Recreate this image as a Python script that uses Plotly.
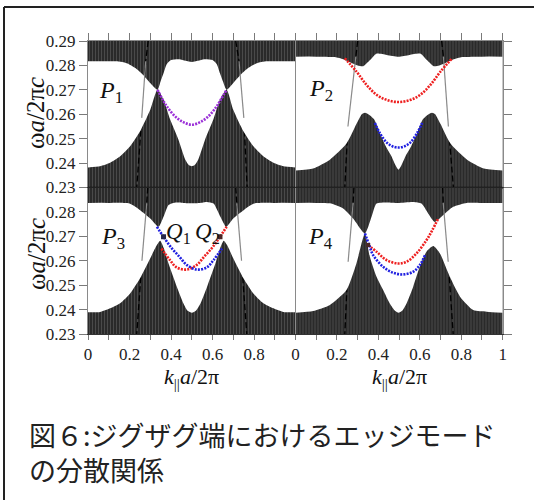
import plotly.graph_objects as go

# ---------------- data ----------------
k_ticks = [0, 0.1, 0.2, 0.3, 0.4, 0.5, 0.6, 0.7, 0.8, 0.9, 1.0]
k_text_left = ["0", "", "0.2", "", "0.4", "", "0.6", "", "0.8", "", ""]
k_text_right = ["0", "", "0.2", "", "0.4", "", "0.6", "", "0.8", "", "1"]
w_ticks = [0.23, 0.24, 0.25, 0.26, 0.27, 0.28, 0.29]
w_text_top = ["0.23", "0.24", "0.25", "0.26", "0.27", "0.28", "0.29"]
w_text_bottom = ["0.23", "0.24", "0.25", "0.26", "0.27", "0.28", ""]
panel_labels = ["P", "P", "P", "P"]
panel_subs = ["1", "2", "3", "4"]

# P1 (top-left)
p1_upper_k = [0, 0.08, 0.15, 0.19, 0.23, 0.27, 0.30, 0.335, 0.35, 0.364, 0.38, 0.40, 0.44, 0.47,
              0.50, 0.53, 0.56, 0.60, 0.62, 0.636, 0.65, 0.668, 0.70, 0.73, 0.77, 0.81, 0.85, 0.92, 1.0]
p1_upper_w = [0.2817, 0.2817, 0.2816, 0.2808, 0.2788, 0.2757, 0.2728, 0.2700, 0.2735, 0.2768, 0.2806, 0.2822,
              0.2825, 0.2819, 0.2814, 0.2819, 0.2825, 0.2822, 0.2806, 0.2768, 0.2735, 0.2700, 0.2728, 0.2757,
              0.2788, 0.2808, 0.2816, 0.2817, 0.2817]
p1_lower_k = [0, 0.058, 0.106, 0.155, 0.203, 0.251, 0.30, 0.335, 0.364, 0.396, 0.436, 0.469, 0.486,
              0.50, 0.514, 0.531, 0.564, 0.604, 0.636, 0.668, 0.70, 0.749, 0.797, 0.845, 0.894, 0.942, 1.0]
p1_lower_w = [0.2382, 0.2387, 0.2401, 0.2428, 0.2469, 0.2530, 0.2618, 0.2700, 0.2659, 0.2578, 0.2496,
              0.2414, 0.2392, 0.2387, 0.2392, 0.2414, 0.2496, 0.2578, 0.2659, 0.2700, 0.2618, 0.2530,
              0.2469, 0.2428, 0.2401, 0.2387, 0.2382]
p1_mode_k = [0.335, 0.36, 0.38, 0.412, 0.452, 0.50, 0.548, 0.588, 0.62, 0.64, 0.668]
p1_mode_w = [0.2700, 0.2660, 0.2632, 0.2598, 0.2571, 0.2557, 0.2571, 0.2598, 0.2632, 0.2660, 0.2700]
p1_light_left_k = [0.29, 0.278, 0.259, 0.235]
p1_light_right_k = [0.712, 0.728, 0.751, 0.767]
p1_light_w = [0.29, 0.2817, 0.2585, 0.23]

# P2 (top-right)
p2_upper_k = [0, 0.10, 0.19, 0.23, 0.27, 0.30, 0.327, 0.36, 0.39, 0.44, 0.497, 0.55, 0.604, 0.634,
              0.667, 0.694, 0.724, 0.764, 0.804, 0.90, 1.0]
p2_upper_w = [0.2836, 0.2836, 0.2834, 0.2825, 0.2810, 0.2800, 0.2797, 0.2822, 0.2848, 0.2843, 0.2836,
              0.2843, 0.2848, 0.2822, 0.2797, 0.2800, 0.2810, 0.2825, 0.2834, 0.2836, 0.2836]
p2_lower_k = [0, 0.085, 0.166, 0.246, 0.294, 0.320, 0.335, 0.36, 0.38, 0.407, 0.435, 0.463, 0.482,
              0.497, 0.512, 0.531, 0.559, 0.587, 0.614, 0.634, 0.659, 0.674, 0.700, 0.748, 0.828,
              0.909, 1.0]
p2_lower_w = [0.2370, 0.2378, 0.2414, 0.2480, 0.2560, 0.2600, 0.2606, 0.2595, 0.2578, 0.2523, 0.2470,
              0.2428, 0.2392, 0.2373, 0.2392, 0.2428, 0.2470, 0.2523, 0.2578, 0.2595, 0.2606, 0.2600,
              0.2560, 0.2480, 0.2414, 0.2378, 0.2370]
p2_red_k = [0.238, 0.294, 0.343, 0.391, 0.439, 0.497, 0.555, 0.603, 0.651, 0.700, 0.756]
p2_red_w = [0.2829, 0.2775, 0.2720, 0.2680, 0.2659, 0.2650, 0.2659, 0.2680, 0.2720, 0.2775, 0.2829]
p2_blue_k = [0.383, 0.407, 0.439, 0.470, 0.497, 0.524, 0.555, 0.587, 0.611]
p2_blue_w = [0.2564, 0.2523, 0.2485, 0.2468, 0.2464, 0.2468, 0.2485, 0.2523, 0.2564]
p2_light_left_k = [0.30, 0.291, 0.253, 0.238]
p2_light_right_k = [0.705, 0.714, 0.738, 0.762]
p2_light_w = [0.29, 0.2835, 0.255, 0.23]

# P3 (bottom-left)
p3_upper_k = [0, 0.10, 0.20, 0.251, 0.30, 0.340, 0.364, 0.388, 0.412, 0.45, 0.50, 0.55, 0.573, 0.605,
              0.638, 0.666, 0.70, 0.75, 0.80, 0.90, 1.0]
p3_upper_w = [0.2837, 0.2837, 0.2834, 0.2807, 0.2773, 0.2739, 0.2780, 0.2828, 0.2837, 0.2838, 0.2835,
              0.2838, 0.2841, 0.2834, 0.2780, 0.2739, 0.2773, 0.2807, 0.2834, 0.2837, 0.2837]
p3_lower_k = [0, 0.058, 0.106, 0.155, 0.203, 0.251, 0.30, 0.332, 0.348, 0.365, 0.388, 0.428, 0.46,
              0.48, 0.501, 0.52, 0.542, 0.574, 0.614, 0.637, 0.654, 0.67, 0.70, 0.749, 0.797, 0.845,
              0.894, 0.942, 1.0]
p3_lower_w = [0.2389, 0.2390, 0.2405, 0.2426, 0.2466, 0.2528, 0.2610, 0.2664, 0.2682, 0.2652, 0.2589,
              0.2494, 0.2425, 0.2395, 0.2387, 0.2395, 0.2425, 0.2494, 0.2589, 0.2652, 0.2682, 0.2664,
              0.2610, 0.2528, 0.2466, 0.2426, 0.2405, 0.2390, 0.2389]
p3_blue_k = [0.332, 0.364, 0.40, 0.44, 0.477, 0.525, 0.573, 0.605, 0.646]
p3_blue_w = [0.2739, 0.2698, 0.2655, 0.2617, 0.2582, 0.2564, 0.2573, 0.2603, 0.2650]
p3_red_k = [0.354, 0.395, 0.427, 0.475, 0.523, 0.56, 0.60, 0.636, 0.668]
p3_red_w = [0.2650, 0.2603, 0.2573, 0.2564, 0.2582, 0.2617, 0.2655, 0.2698, 0.2739]
p3_q_k = [0.364, 0.636]
p3_q_w = [0.2698, 0.2698]
p3_q_names = ["1", "2"]
p3_q_label_k = [0.435, 0.574]
p3_light_left_k = [0.288, 0.283, 0.26, 0.235]
p3_light_right_k = [0.712, 0.717, 0.74, 0.765]
p3_light_w = [0.29, 0.2835, 0.26, 0.23]

# P4 (bottom-right)
p4_upper_k = [0, 0.10, 0.166, 0.23, 0.278, 0.335, 0.367, 0.391, 0.439, 0.495, 0.568, 0.608, 0.640,
              0.673, 0.713, 0.761, 0.826, 0.90, 1.0]
p4_upper_w = [0.2837, 0.2837, 0.2835, 0.2814, 0.2773, 0.2712, 0.2780, 0.2834, 0.2839, 0.2837, 0.2841,
              0.2834, 0.2794, 0.2759, 0.2787, 0.2821, 0.2837, 0.2837, 0.2837]
p4_lower_k = [0, 0.085, 0.166, 0.246, 0.294, 0.335, 0.359, 0.391, 0.423, 0.455, 0.48, 0.497, 0.515,
              0.536, 0.568, 0.60, 0.632, 0.665, 0.697, 0.745, 0.794, 0.858, 0.923, 1.0]
p4_lower_w = [0.2387, 0.2394, 0.2419, 0.2480, 0.2589, 0.2712, 0.2616, 0.2534, 0.2480, 0.2425, 0.2395,
              0.2387, 0.2395, 0.2425, 0.2494, 0.2575, 0.2637, 0.2660, 0.2630, 0.2534, 0.2453, 0.2398,
              0.2391, 0.2387]
p4_blue_k = [0.335, 0.355, 0.375, 0.423, 0.471, 0.520, 0.568, 0.600, 0.625]
p4_blue_w = [0.2712, 0.2665, 0.2623, 0.2575, 0.2551, 0.2544, 0.2555, 0.2582, 0.2623]
p4_red_k = [0.351, 0.391, 0.439, 0.495, 0.536, 0.584, 0.632, 0.66, 0.689]
p4_red_w = [0.2664, 0.2637, 0.2603, 0.2589, 0.2596, 0.2630, 0.2684, 0.2725, 0.2773]
p4_light_left_k = [0.282, 0.278, 0.254, 0.238]
p4_light_right_k = [0.71, 0.713, 0.737, 0.761]
p4_light_w = [0.29, 0.2837, 0.2596, 0.23]

caption_line1 = "図６:ジグザグ端におけるエッジモード"
caption_line2 = "の分散関係"

# ---------------- styling ----------------
W, H = 534, 500
DARK = "#2a2a2a"
RED = "#ee2020"
BLUE = "#2020e0"
PURPLE = "#9b30d8"
SERIF = "Liberation Serif"

def px_x(p):
    return p / W

def px_y(p):
    return 1 - p / H

XL = [px_x(88), px_x(295.5)]
XR = [px_x(295.5), px_x(502.7)]
YT = [px_y(187.5), px_y(41)]
YB = [px_y(334), px_y(187.5)]

fig = go.Figure()

def add_panel(n, upper_k, upper_w, lower_k, lower_w, lights, modes):
    xa = "x" if n == 1 else f"x{n}"
    ya = "y" if n == 1 else f"y{n}"
    # dark projected bands (hatched)
    fig.add_trace(go.Scatter(x=[0, 1, 1, 0, 0], y=[0.23, 0.23, 0.29, 0.29, 0.23], xaxis=xa, yaxis=ya,
                             mode="lines", line=dict(width=0), fill="toself", fillcolor=DARK,
                             fillpattern=dict(shape="|", bgcolor=DARK, fgcolor="#727272", size=3,
                                              solidity=0.3),
                             hoverinfo="skip", showlegend=False))
    # light lines, dashed in the bands
    for lk, lw in lights:
        fig.add_trace(go.Scatter(x=lk, y=lw, xaxis=xa, yaxis=ya, mode="lines",
                                 line=dict(color="#000000", width=1.3, dash="6px,3px"),
                                 hoverinfo="skip", showlegend=False))
    # white gap region between the bands
    fig.add_trace(go.Scatter(x=lower_k, y=lower_w, xaxis=xa, yaxis=ya, mode="lines",
                             line=dict(width=0, shape="spline", smoothing=0.6),
                             hoverinfo="skip", showlegend=False))
    fig.add_trace(go.Scatter(x=upper_k, y=upper_w, xaxis=xa, yaxis=ya, mode="lines",
                             line=dict(width=0, shape="spline", smoothing=0.6),
                             fill="tonexty", fillcolor="#ffffff",
                             hoverinfo="skip", showlegend=False))
    # light lines, solid gray in the gap
    for lk, lw in lights:
        fig.add_trace(go.Scatter(x=lk[1:3], y=lw[1:3], xaxis=xa, yaxis=ya, mode="lines",
                                 line=dict(color="#8a8a8a", width=1.2),
                                 hoverinfo="skip", showlegend=False))
    # edge modes
    for mk, mw, col in modes:
        fig.add_trace(go.Scatter(x=mk, y=mw, xaxis=xa, yaxis=ya, mode="lines",
                                 line=dict(color=col, width=2.6, dash="2px,1.2px", shape="spline"),
                                 hoverinfo="skip", showlegend=False))

add_panel(1, p1_upper_k, p1_upper_w, p1_lower_k, p1_lower_w,
          [(p1_light_left_k, p1_light_w), (p1_light_right_k, p1_light_w)],
          [(p1_mode_k, p1_mode_w, PURPLE)])
add_panel(2, p2_upper_k, p2_upper_w, p2_lower_k, p2_lower_w,
          [(p2_light_left_k, p2_light_w), (p2_light_right_k, p2_light_w)],
          [(p2_red_k, p2_red_w, RED), (p2_blue_k, p2_blue_w, BLUE)])
add_panel(3, p3_upper_k, p3_upper_w, p3_lower_k, p3_lower_w,
          [(p3_light_left_k, p3_light_w), (p3_light_right_k, p3_light_w)],
          [(p3_red_k, p3_red_w, RED), (p3_blue_k, p3_blue_w, BLUE)])
add_panel(4, p4_upper_k, p4_upper_w, p4_lower_k, p4_lower_w,
          [(p4_light_left_k, p4_light_w), (p4_light_right_k, p4_light_w)],
          [(p4_red_k, p4_red_w, RED), (p4_blue_k, p4_blue_w, BLUE)])

# Q1 / Q2 markers
fig.add_trace(go.Scatter(x=p3_q_k, y=p3_q_w, xaxis="x3", yaxis="y3", mode="markers",
                         marker=dict(symbol="square", size=5, color=["#26264a", "#4a2626"]),
                         hoverinfo="skip", showlegend=False))
fig.add_trace(go.Scatter(x=[p4_red_k[0]], y=[p4_red_w[0]], xaxis="x4", yaxis="y4", mode="markers",
                         marker=dict(symbol="square", size=4, color="#4a2626"),
                         hoverinfo="skip", showlegend=False))

tickfont = dict(family=SERIF, size=17, color="#222222")
common = dict(showgrid=False, zeroline=False, showline=True, mirror=True, linecolor="#8a8a8a",
              linewidth=1, tickcolor="#7a7a7a", tickwidth=1, automargin=False, fixedrange=True)

fig.update_layout(
    width=W, height=H,
    margin=dict(l=0, r=0, t=0, b=0),
    paper_bgcolor="#ffffff", plot_bgcolor="#ffffff",
    showlegend=False,
    xaxis=dict(domain=XL, anchor="y", range=[0, 1], side="top", tickvals=k_ticks, ticks="outside",
               ticklen=7, showticklabels=False, **common),
    yaxis=dict(domain=YT, anchor="x", range=[0.23, 0.29], tickvals=w_ticks, ticktext=w_text_top,
               ticks="outside", ticklen=8, tickfont=tickfont, **common),
    xaxis2=dict(domain=XR, anchor="y2", range=[0, 1], side="top", tickvals=k_ticks, ticks="outside",
                ticklen=7, showticklabels=False, **common),
    yaxis2=dict(domain=YT, anchor="x2", range=[0.23, 0.29], side="right", tickvals=w_ticks,
                ticks="outside", ticklen=8, showticklabels=False, **common),
    xaxis3=dict(domain=XL, anchor="y3", range=[0, 1], side="bottom", tickvals=k_ticks,
                ticktext=k_text_left, ticks="outside", ticklen=5, tickfont=tickfont, **common),
    yaxis3=dict(domain=YB, anchor="x3", range=[0.23, 0.29], tickvals=w_ticks, ticktext=w_text_bottom,
                ticks="outside", ticklen=8, tickfont=tickfont, **common),
    xaxis4=dict(domain=XR, anchor="y4", range=[0, 1], side="bottom", tickvals=k_ticks,
                ticktext=k_text_right, ticks="outside", ticklen=5, tickfont=tickfont, **common),
    yaxis4=dict(domain=YB, anchor="x4", range=[0.23, 0.29], side="right", tickvals=w_ticks,
                ticks="outside", ticklen=8, showticklabels=False, **common),
)
fig.update_xaxes(linecolor="#333333", selector=dict(anchor="y3"))
fig.update_xaxes(linecolor="#333333", selector=dict(anchor="y4"))

annotations = []
# panel labels
label_pos = [("x", "y", 0.11, 0.2690), ("x2", "y2", 0.125, 0.2700),
             ("x3", "y3", 0.12, 0.2693), ("x4", "y4", 0.12, 0.2693)]
for (xa, ya, lk, lw), pl, ps in zip(label_pos, panel_labels, panel_subs):
    annotations.append(dict(x=lk, y=lw, xref=xa, yref=ya, showarrow=False,
                            xanchor="center", yanchor="middle",
                            text=f"<i>{pl}</i><sub>{ps}</sub>",
                            font=dict(family=SERIF, size=24, color="#111111")))
for qk, qn in zip(p3_q_label_k, p3_q_names):
    annotations.append(dict(x=qk, y=0.2712, xref="x3", yref="y3", showarrow=False,
                            xanchor="center", yanchor="middle",
                            text=f"<i>Q</i><sub>{qn}</sub>",
                            font=dict(family=SERIF, size=23, color="#111111")))
# axis titles
for yc in [px_y(113), px_y(254)]:
    annotations.append(dict(x=px_x(36), y=yc, xref="paper", yref="paper", showarrow=False,
                            xanchor="center", yanchor="middle",
                            textangle=-90, text="ω<i>a</i>/2π<i>c</i>",
                            font=dict(family=SERIF, size=25, color="#111111")))
for xc in [(XL[0] + XL[1]) / 2, (XR[0] + XR[1]) / 2]:
    annotations.append(dict(x=xc, y=px_y(378), xref="paper", yref="paper", showarrow=False,
                            xanchor="center", yanchor="middle",
                            text="<i>k</i><sub>||</sub><i>a</i>/2π",
                            font=dict(family=SERIF, size=22, color="#111111")))
# caption (two lines in one text block)
annotations.append(dict(x=px_x(27), y=px_y(451.5), xref="paper", yref="paper", showarrow=False,
                        xanchor="left", yanchor="middle", align="left",
                        text=caption_line1 + "<br>" + caption_line2,
                        font=dict(family="Noto Sans CJK JP", size=27, color="#222222")))
fig.update_layout(annotations=annotations)

# middle separator and outer frame
fig.update_layout(shapes=[
    dict(type="line", xref="x", yref="y", x0=0, x1=1, y0=0.23, y1=0.23,
         line=dict(color="#111111", width=1.5)),
    dict(type="line", xref="x2", yref="y2", x0=0, x1=1, y0=0.23, y1=0.23,
         line=dict(color="#111111", width=1.5)),
    dict(type="line", xref="paper", yref="paper", x0=px_x(4), x1=1, y0=px_y(7), y1=px_y(7),
         line=dict(color="#222222", width=2)),
    dict(type="line", xref="paper", yref="paper", x0=px_x(4), x1=px_x(4), y0=0, y1=px_y(7),
         line=dict(color="#222222", width=2)),
])

fig.write_html("out.html", config={"displayModeBar": False},
               post_script="document.body.style.margin='0';document.body.style.overflow='hidden';")
